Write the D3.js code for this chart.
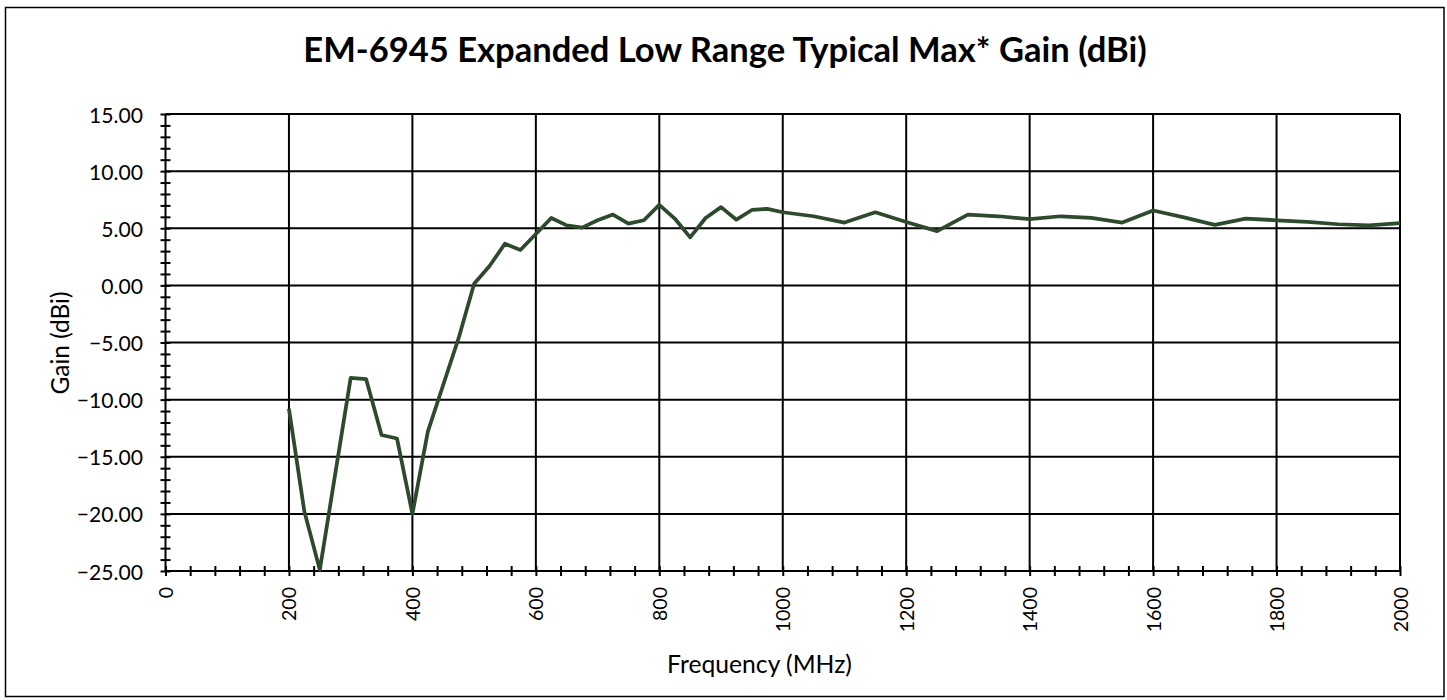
<!DOCTYPE html>
<html>
<head>
<meta charset="utf-8">
<script src="https://cdn.jsdelivr.net/npm/d3@7"></script>
<style>
  html, body { margin: 0; padding: 0; background: #fff; }
  svg { display: block; }
  text { font-family: Lato, "Open Sans", sans-serif; fill: #000; }
</style>
</head>
<body>
<svg id="chart" width="1447" height="700"></svg>
<script>
const title = "EM-6945 Expanded Low Range Typical Max* Gain (dBi)";
const xTitle = "Frequency (MHz)";
const yTitle = "Gain (dBi)";
const frequency = [200,225,250,300,325,350,375,400,425,450,475,500,525,550,575,600,625,650,675,700,725,750,775,800,825,850,875,900,925,950,975,1000,1050,1100,1150,1200,1250,1300,1350,1400,1450,1500,1550,1600,1650,1700,1750,1800,1850,1900,1950,2000];
const gain = [-10.8,-19.8,-24.9,-8.1,-8.2,-13.1,-13.4,-20.0,-12.8,-8.7,-4.6,0.15,1.7,3.65,3.1,4.5,5.9,5.25,5.05,5.7,6.2,5.4,5.7,7.05,5.85,4.2,5.9,6.85,5.75,6.6,6.7,6.4,6.05,5.5,6.4,5.55,4.75,6.2,6.05,5.8,6.05,5.9,5.5,6.55,5.95,5.3,5.85,5.7,5.55,5.35,5.25,5.45];
const xTicks = [0,200,400,600,800,1000,1200,1400,1600,1800,2000];
const xMinorTicks = d3.range(0, 2001, 40);
const yTicks = [15,10,5,0,-5,-10,-15,-20,-25];
const yMinorTicks = d3.range(-25, 16, 1);

const svg = d3.select("#chart");
const L = 165.5, R = 1400, T = 114, B = 571;
const x = d3.scaleLinear().domain([0, 2000]).range([L, R]);
const y = d3.scaleLinear().domain([-25, 15]).range([B, T]);

// outer border
svg.append("rect").attr("x", 5.5).attr("y", 7.5).attr("width", 1438.5).attr("height", 689)
  .attr("fill", "#fff").attr("stroke", "#000").attr("stroke-width", 1.5);

function fit(sel, target) {
  const w = sel.node().getComputedTextLength();
  const fs = parseFloat(sel.attr("font-size"));
  sel.attr("font-size", fs * target / w);
}

// gridlines
svg.append("g").selectAll("line").data(xTicks.filter(d => d > 0)).join("line")
  .attr("x1", d => x(d)).attr("x2", d => x(d)).attr("y1", T).attr("y2", B)
  .attr("stroke", "#000").attr("stroke-width", 2);
svg.append("g").selectAll("line").data(yTicks.filter(d => d > -25)).join("line")
  .attr("x1", L).attr("x2", R).attr("y1", d => y(d)).attr("y2", d => y(d))
  .attr("stroke", "#000").attr("stroke-width", 2);

// x axis
const xAxis = svg.append("g").attr("transform", `translate(0,${B})`)
  .call(d3.axisBottom(x).tickValues(xMinorTicks).tickSize(5).tickFormat(""));
xAxis.select(".domain").attr("stroke", "#000").attr("stroke-width", 2).attr("d", `M${L},0H${R}`);
xAxis.selectAll(".tick line").attr("y1", -5).attr("y2", 5).attr("stroke-width", 2);

// y axis
const yAxis = svg.append("g").attr("transform", `translate(${L},0)`)
  .call(d3.axisLeft(y).tickValues(yMinorTicks).tickSize(5).tickFormat(""));
yAxis.select(".domain").attr("stroke", "#000").attr("stroke-width", 2).attr("d", `M0,${T}V${B}`);
yAxis.selectAll(".tick line").attr("x1", -5).attr("x2", 5).attr("stroke-width", 2);

// y tick labels
const yl = svg.append("g").selectAll("text").data(yTicks).join("text")
  .attr("x", 143).attr("y", d => y(d)).attr("text-anchor", "end")
  .attr("dominant-baseline", "central").attr("font-size", 20)
  .text(d => d3.format(".2f")(d));
{
  const w = yl.filter(d => d === 15).node().getComputedTextLength();
  yl.attr("font-size", 20 * 54 / w);
}

// x tick labels
const xl = svg.append("g").selectAll("text").data(xTicks).join("text")
  .attr("transform", d => `translate(${x(d)},587) rotate(-90)`)
  .attr("text-anchor", "end").attr("dominant-baseline", "central").attr("font-size", 20)
  .text(d => d);
{
  const w = xl.filter(d => d === 200).node().getComputedTextLength();
  xl.attr("font-size", 20 * 34 / w);
}

// title
const tt = svg.append("text").attr("x", 725).attr("y", 61.5).attr("text-anchor", "middle")
  .attr("font-weight", "bold").attr("font-size", 30).text(title);
fit(tt, 844);

// axis titles
const xt = svg.append("text").attr("x", 759.5).attr("y", 673).attr("text-anchor", "middle")
  .attr("font-size", 22).text(xTitle);
fit(xt, 185);
const yt = svg.append("text").attr("transform", "translate(59,343) rotate(-90)")
  .attr("text-anchor", "middle").attr("dominant-baseline", "central")
  .attr("font-size", 22).text(yTitle);
fit(yt, 103);

// data line
const line = d3.line().x((d, i) => x(frequency[i])).y(d => y(d));
svg.append("path").datum(gain).attr("d", line)
  .attr("fill", "none").attr("stroke", "#2D4A2D").attr("stroke-width", 3.75)
  .attr("stroke-linejoin", "round").attr("stroke-linecap", "butt");
</script>
</body>
</html>
